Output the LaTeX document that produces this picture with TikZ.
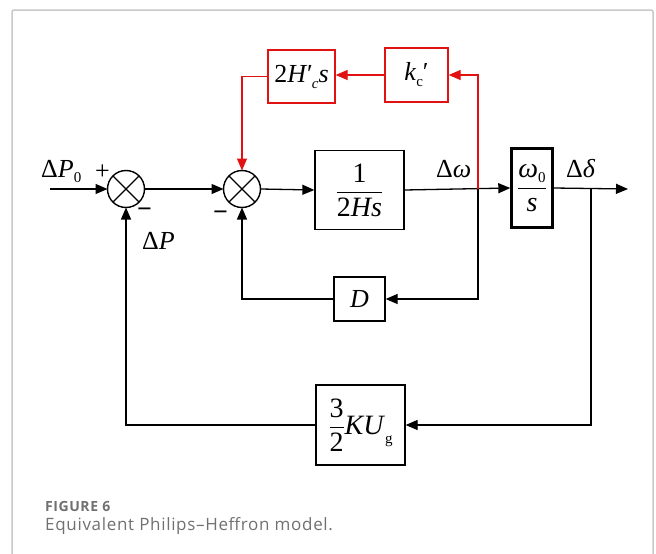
\documentclass[tikz,border=0pt]{standalone}
\usepackage{fontspec}
\usepackage{amsmath}
\setmainfont{Liberation Serif}
\newfontfamily\capfont[LetterSpace=4]{Open Sans}
\usetikzlibrary{arrows.meta}
\definecolor{ctrlred}{RGB}{226,18,18}
\definecolor{framegray}{RGB}{200,200,200}
\definecolor{capgray}{RGB}{112,112,112}
\newcommand\lowsub[2][5pt]{\raisebox{-#1}{\fontsize{15}{15}\selectfont #2}}
\begin{document}
\begin{tikzpicture}[x=1pt,y=-1pt,
  font=\fontsize{26}{28}\selectfont,
  sumj/.style={draw,circle,line width=1.4pt,minimum size=37pt,inner sep=0pt,outer sep=0pt},
  box/.style={draw,line width=1.3pt,inner sep=0pt},
  redbox/.style={box,draw=ctrlred},
  wire/.style={line width=1.3pt},
  redwire/.style={line width=1.3pt,color=ctrlred},
  arr/.style={-{Triangle[length=12pt,width=10pt]}},
  lbl/.style={inner sep=0pt,anchor=base west},
  bigf/.style={font=\fontsize{28}{30}\selectfont}
]
\useasboundingbox (0,0) rectangle (656,554);
% frame
\draw[framegray,line width=1.5pt,rounded corners=2pt] (12,554)--(12,10)--(653,10)--(653,554);

% summing junctions
\node[sumj] (s1) at (126,189) {};
\node[sumj] (s2) at (242,189) {};
\draw[wire] (s1.north west)--(s1.south east) (s1.north east)--(s1.south west);
\draw[wire] (s2.north west)--(s2.south east) (s2.north east)--(s2.south west);

% blocks
\node[box,bigf,minimum width=89pt,minimum height=79pt] (g1) at (359.5,190)
  {$\dfrac{\text{1}}{\text{2\textit{Hs}}}$};
\node[box,bigf,line width=2.4pt,minimum width=41pt,minimum height=79pt] (g2) at (532,188)
  {$\dfrac{\text{\textit{ω}\lowsub{0}}}{\text{\textit{s}}}$};
\node[redbox,minimum width=67pt,minimum height=53pt] (hc) at (301.5,76.5)
  {2\textit{H}′\kern-1pt\lowsub[6pt]{\textit{c}}\textit{s}};
\node[redbox,minimum width=63pt,minimum height=54pt] (kc) at (416.5,75)
  {\textit{k}\lowsub[6pt]{c}′};
\node[box,minimum width=51pt,minimum height=44pt] (d) at (359.5,299)
  {\textit{D}};
\node[box,bigf,minimum width=89pt,minimum height=80pt] (ku) at (360.5,425)
  {$\dfrac{\text{3}}{\text{2}}$\textit{KU}\lowsub[9pt]{g}};

% coordinates
\coordinate (in) at (50,189);
\coordinate (out) at (628,189);
\coordinate (bw) at (478,189);
\coordinate (bd) at (591,189);

% main path
\draw[wire,arr] (in) -- (s1.west);
\draw[wire,arr] (s1.east) -- (s2.west);
\draw[wire,arr] (s2.east) -- (g1.west);
\draw[wire,arr] (g1.east) -- (g2.west);
\draw[wire,arr] (g2.east) -- (out);

% D feedback
\draw[wire,arr] (bw) |- (d.east);
\draw[wire,arr] (d.west) -| (s2.south);
% K feedback
\draw[wire,arr] (bd) |- (ku.east);
\draw[wire,arr] (ku.west) -| (s1.south);

% red feedback
\draw[redwire,arr] (bw) |- (kc.east);
\draw[redwire,arr] (kc.west) -- (hc.east |- kc.west);
\draw[redwire,arr] (hc.west) -| (s2.north);

% labels
\node[lbl] (lp0) at (41,177) {Δ\textit{P}\lowsub{0}};
\node[inner sep=0pt] (plus) at (102.5,172) {+};
\node[inner sep=0pt] (m1) at (144.5,213) {\textbf{−}};
\node[inner sep=0pt] (m2) at (220.5,216) {\textbf{−}};
\node[lbl] (lp) at (142,249) {Δ\textit{P}};
\node[lbl] (lw) at (436,177) {Δ\textit{ω}};
\node[lbl] (ld) at (566,177) {Δ\textit{δ}};

% caption
\node[lbl,font=\capfont\bfseries\fontsize{14}{15}\selectfont,text=capgray] (cap1) at (45,511) {FIGURE 6};
\node[lbl,font=\capfont\fontsize{17}{18}\selectfont,text=capgray] (cap2) at (45,530) {Equivalent Philips–Heffron model.};
\end{tikzpicture}
\end{document}
